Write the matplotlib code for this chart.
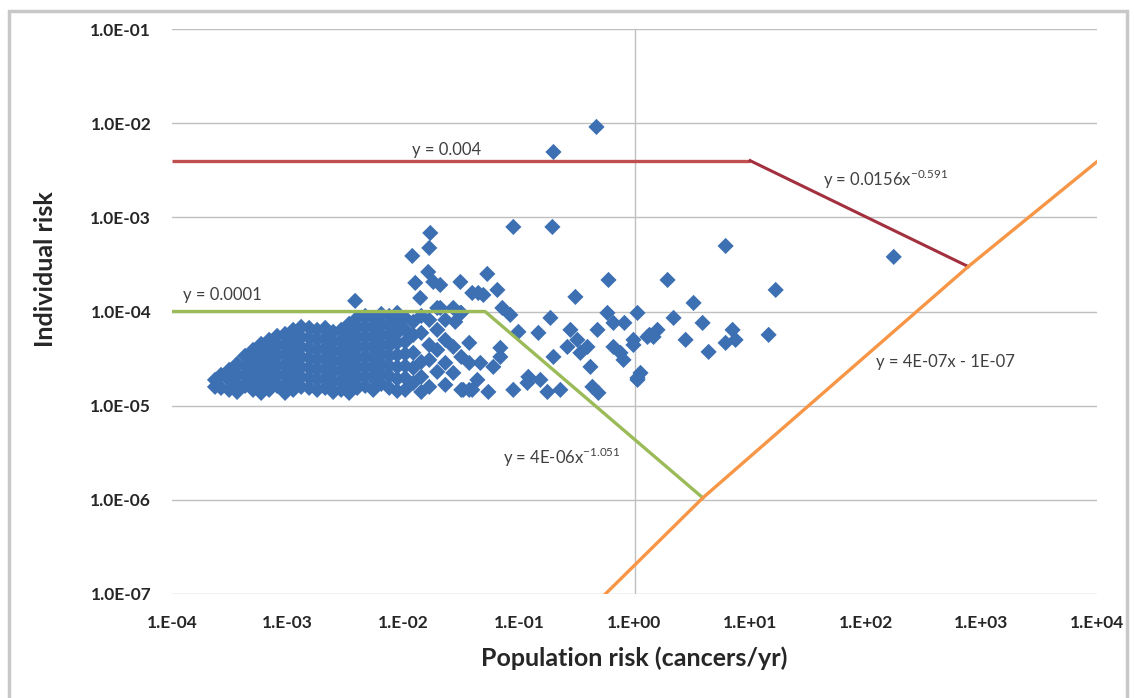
import numpy as np
import matplotlib
matplotlib.use("Agg")
import matplotlib.pyplot as plt
from matplotlib.patches import Rectangle

plt.rcParams['font.family'] = ['Lato', 'DejaVu Sans']
plt.rcParams['mathtext.fontset'] = 'custom'
plt.rcParams['mathtext.rm'] = 'Lato'

# scatter data, stored as log10 exponents (population risk, individual risk)
# dense cloud, read column by column
pop_exp = [
    -3.628, -3.628,
    -3.576, -3.576,
    -3.506, -3.506, -3.506,
    -3.437, -3.437, -3.437, -3.437,
    -3.368, -3.368, -3.368, -3.368,
    -3.299, -3.299, -3.299, -3.299, -3.299,
    -3.229, -3.229, -3.229, -3.229, -3.229, -3.229,
    -3.160, -3.160, -3.160, -3.160, -3.160, -3.160,
    -3.091, -3.091, -3.091, -3.091, -3.091, -3.091,
    -3.022, -3.022, -3.022, -3.022, -3.022, -3.022, -3.022,
    -2.952, -2.952, -2.952, -2.952, -2.952, -2.952, -2.952,
    -2.883, -2.883, -2.883, -2.883, -2.883, -2.883, -2.883,
    -2.814, -2.814, -2.814, -2.814, -2.814, -2.814, -2.814,
    -2.745, -2.745, -2.745, -2.745, -2.745, -2.745, -2.745,
    -2.675, -2.675, -2.675, -2.675, -2.675, -2.675, -2.675,
    -2.606, -2.606, -2.606, -2.606, -2.606, -2.606, -2.606,
    -2.537, -2.537, -2.537, -2.537, -2.537, -2.537, -2.537,
    -2.468, -2.468, -2.468, -2.468, -2.468, -2.468, -2.468, -2.468,
    -2.398, -2.398, -2.398, -2.398, -2.398, -2.398, -2.398, -2.398,
    -2.329, -2.329, -2.329, -2.329, -2.329, -2.329, -2.329, -2.329,
    -2.260, -2.260, -2.260, -2.260, -2.260, -2.260, -2.260, -2.260,
    -2.190, -2.190, -2.190, -2.190, -2.190, -2.190, -2.190, -2.190,
    -2.121, -2.121, -2.121, -2.121, -2.121, -2.121, -2.121, -2.121,
    -2.052, -2.052, -2.052, -2.052, -2.052, -2.052, -2.052, -2.052,
    -1.983, -1.983, -1.983, -1.983, -1.983, -1.983, -1.983,
    -1.913, -1.913, -1.913, -1.913, -1.913,
    -1.844, -1.844, -1.844, -1.844, -1.844,
    -1.775, -1.775, -1.775, -1.775,
    -1.706, -1.706, -1.706, -1.706,
    -1.636, -1.636, -1.636, -1.636,
    -1.567, -1.567, -1.567,
    -1.498, -1.498, -1.498,
    -1.429, -1.429, -1.429,
]
ind_exp = [
    -4.800, -4.726,
    -4.673, -4.811,
    -4.620, -4.726, -4.832,
    -4.556, -4.662, -4.769, -4.854,
    -4.471, -4.578, -4.684, -4.790,
    -4.408, -4.514, -4.620, -4.726, -4.832,
    -4.344, -4.450, -4.556, -4.662, -4.769, -4.864,
    -4.301, -4.408, -4.514, -4.620, -4.726, -4.832,
    -4.259, -4.365, -4.471, -4.578, -4.684, -4.790,
    -4.238, -4.344, -4.450, -4.556, -4.662, -4.769, -4.864,
    -4.195, -4.301, -4.408, -4.514, -4.620, -4.726, -4.832,
    -4.163, -4.270, -4.376, -4.482, -4.588, -4.694, -4.800,
    -4.174, -4.280, -4.386, -4.493, -4.599, -4.705, -4.811,
    -4.195, -4.301, -4.408, -4.514, -4.620, -4.726, -4.832,
    -4.174, -4.280, -4.386, -4.493, -4.599, -4.705, -4.811,
    -4.216, -4.323, -4.429, -4.535, -4.641, -4.747, -4.854,
    -4.195, -4.301, -4.408, -4.514, -4.620, -4.726, -4.832,
    -4.131, -4.238, -4.344, -4.450, -4.556, -4.662, -4.769, -4.864,
    -4.068, -4.174, -4.280, -4.386, -4.493, -4.599, -4.705, -4.811,
    -4.047, -4.153, -4.259, -4.365, -4.471, -4.578, -4.684, -4.790,
    -4.068, -4.174, -4.280, -4.386, -4.493, -4.599, -4.705, -4.832,
    -4.026, -4.131, -4.238, -4.344, -4.450, -4.556, -4.662, -4.769,
    -4.047, -4.153, -4.259, -4.365, -4.471, -4.578, -4.684, -4.811,
    -4.015, -4.121, -4.227, -4.333, -4.461, -4.588, -4.715, -4.843,
    -4.068, -4.195, -4.323, -4.450, -4.578, -4.705, -4.832,
    -4.110, -4.248, -4.439, -4.599, -4.758,
    -4.047, -4.227, -4.535, -4.694, -4.854,
    -4.089, -4.355, -4.514, -4.800,
    -3.962, -4.195, -4.408, -4.641,
    -4.089, -4.301, -4.546, -4.779,
    -3.962, -4.376, -4.652,
    -4.015, -4.482, -4.832,
    -4.333, -4.546, -4.832,
]

# scattered points outside the dense cloud
pop_exp2 = [
    -1.403, -1.351, -1.307, -1.273, -1.186, -1.143, -1.074, -1.333, -1.221,
    -1.160, -1.160, -1.481, -1.403, -1.264, -1.359, -1.004, -0.831, -0.727,
    -1.048, -0.918, -0.926, -0.814, -0.753, -0.641, -0.701, -0.580, -0.554,
    -0.494, -0.468, -0.407, -0.511, -0.381, -0.364, -0.312, -0.320, -0.234,
    -0.182, -0.182, -0.121, -0.009, 0.026, 0.052, 0.026, -0.225, 0.165,
    0.199, 0.286, 0.338, 0.442, 0.511, 0.589, 0.641, 0.788, 0.848, 0.874,
    0.788, 1.160, 1.221, 2.242, -0.329, -0.701, -1.048, -0.710, -1.506,
    -1.680, -1.740, -1.896, -1.853, -1.766, -1.775, -1.922, -1.784, -2.416,
    -1.680, -1.550, -1.506, -0.095, -0.009, 0.026, -0.087, 0.130, 0.112,
]
ind_exp2 = [
    -3.803, -3.803, -3.824, -3.601, -3.771, -3.962, -4.036, -4.546, -4.588,
    -4.482, -4.386, -4.832, -4.832, -4.854, -4.726, -4.216, -4.227, -4.068,
    -4.832, -4.694, -4.758, -4.726, -4.854, -4.832, -4.482, -4.376, -4.195,
    -4.301, -4.439, -4.376, -3.845, -4.588, -4.800, -4.864, -4.195, -4.015,
    -4.121, -4.376, -4.439, -4.301, -4.015, -4.652, -4.726, -3.665, -4.270,
    -4.195, -3.665, -4.068, -4.301, -3.909, -4.121, -4.429, -4.333, -4.195,
    -4.301, -3.304, -4.248, -3.771, -3.420, -2.040, -2.306, -3.102, -3.102,
    -3.686, -3.718, -3.686, -3.696, -3.856, -3.166, -3.325, -3.410, -3.580,
    -3.887, -3.962, -4.110, -4.015, -4.514, -4.355, -4.705, -4.121, -4.248,
    -4.270,
]

# guideline vertices
red_flat_x = [1e-4, 10]
red_flat_y = [0.004, 0.004]
red_slope_x = [10, 770]
red_slope_y = [0.004, 3.0e-4]
green_x = [1e-4, 0.051, 3.9]
green_y = [1e-4, 1e-4, 1.05e-6]
orange_x = [0.56, 3.9, 770, 1e4]
orange_y = [1e-7, 1.05e-6, 3.0e-4, 3.9e-3]

x_decades = list(range(-4, 5))
y_decades = list(range(-7, 0))

pop = 10 ** np.array(pop_exp + pop_exp2)
ind = 10 ** np.array(ind_exp + ind_exp2)

fig = plt.figure(figsize=(11.34, 6.98), dpi=100)
ax = fig.add_axes([172 / 1134, 1 - 594 / 698, 925 / 1134, 565 / 698])

ax.set_xscale('log')
ax.set_yscale('log')
ax.set_xlim(1e-4, 1e4)
ax.set_ylim(1e-7, 1e-1)

for s in ax.spines.values():
    s.set_visible(False)

ax.set_xticks([10.0 ** e for e in x_decades])
ax.set_xticklabels([f"1.E{e:+03d}" for e in x_decades])
ax.set_yticks([10.0 ** e for e in y_decades])
ax.set_yticklabels([f"1.0E{e:+03d}" for e in y_decades])
ax.minorticks_off()
ax.tick_params(axis='both', length=0, labelsize=12.5, colors='#262626')
ax.tick_params(axis='y', pad=15)
ax.tick_params(axis='x', pad=15)
for lab in ax.get_xticklabels() + ax.get_yticklabels():
    lab.set_fontweight('bold')

ax.grid(axis='y', color='#BFBFBF', linewidth=1.0)
ax.axvline(1, color='#BFBFBF', linewidth=1.0, zorder=0.5)
ax.set_axisbelow(True)

ax.scatter(pop, ind, marker='D', s=68, color='#3D70B3', edgecolors='none', zorder=2)

ax.plot(red_flat_x, red_flat_y, color='#C0504D', linewidth=2.4, zorder=3, solid_capstyle='butt')
ax.plot(red_slope_x, red_slope_y, color='#A3303F', linewidth=2.2, zorder=3)
ax.plot(green_x, green_y, color='#9BBB59', linewidth=2.4, zorder=3)
ax.plot(orange_x, orange_y, color='#F79646', linewidth=2.4, zorder=3)

txt = dict(fontsize=12, color='#404040', va='center', ha='left')
ax.text(0.012, 5.2e-3, "y = 0.004", **txt)
ax.text(1.24e-4, 1.5e-4, "y = 0.0001", **txt)
ax.text(43, 2.5e-3, r"y = 0.0156x$^{\mathregular{-0.591}}$", **txt)
ax.text(0.073, 2.8e-6, r"y = 4E-06x$^{\mathregular{-1.051}}$", **txt)
ax.text(122, 2.9e-5, "y = 4E-07x - 1E-07", **txt)

ax.set_xlabel("Population risk (cancers/yr)", fontsize=18, fontweight='bold', color='#262626', va='center')
ax.xaxis.set_label_coords(0.4995, -0.113)
ax.set_ylabel("Individual risk", fontsize=18, fontweight='bold', color='#262626', va='center')
ax.yaxis.set_label_coords(-0.137, 0.575)

# chart-area border
fig.patches.append(Rectangle((9 / 1134, -0.05), 1118 / 1134, 1.05 - 11 / 698,
                             transform=fig.transFigure, fill=False,
                             edgecolor='#C8C8C8', linewidth=2.5))

fig.savefig("out.png", dpi=100)
